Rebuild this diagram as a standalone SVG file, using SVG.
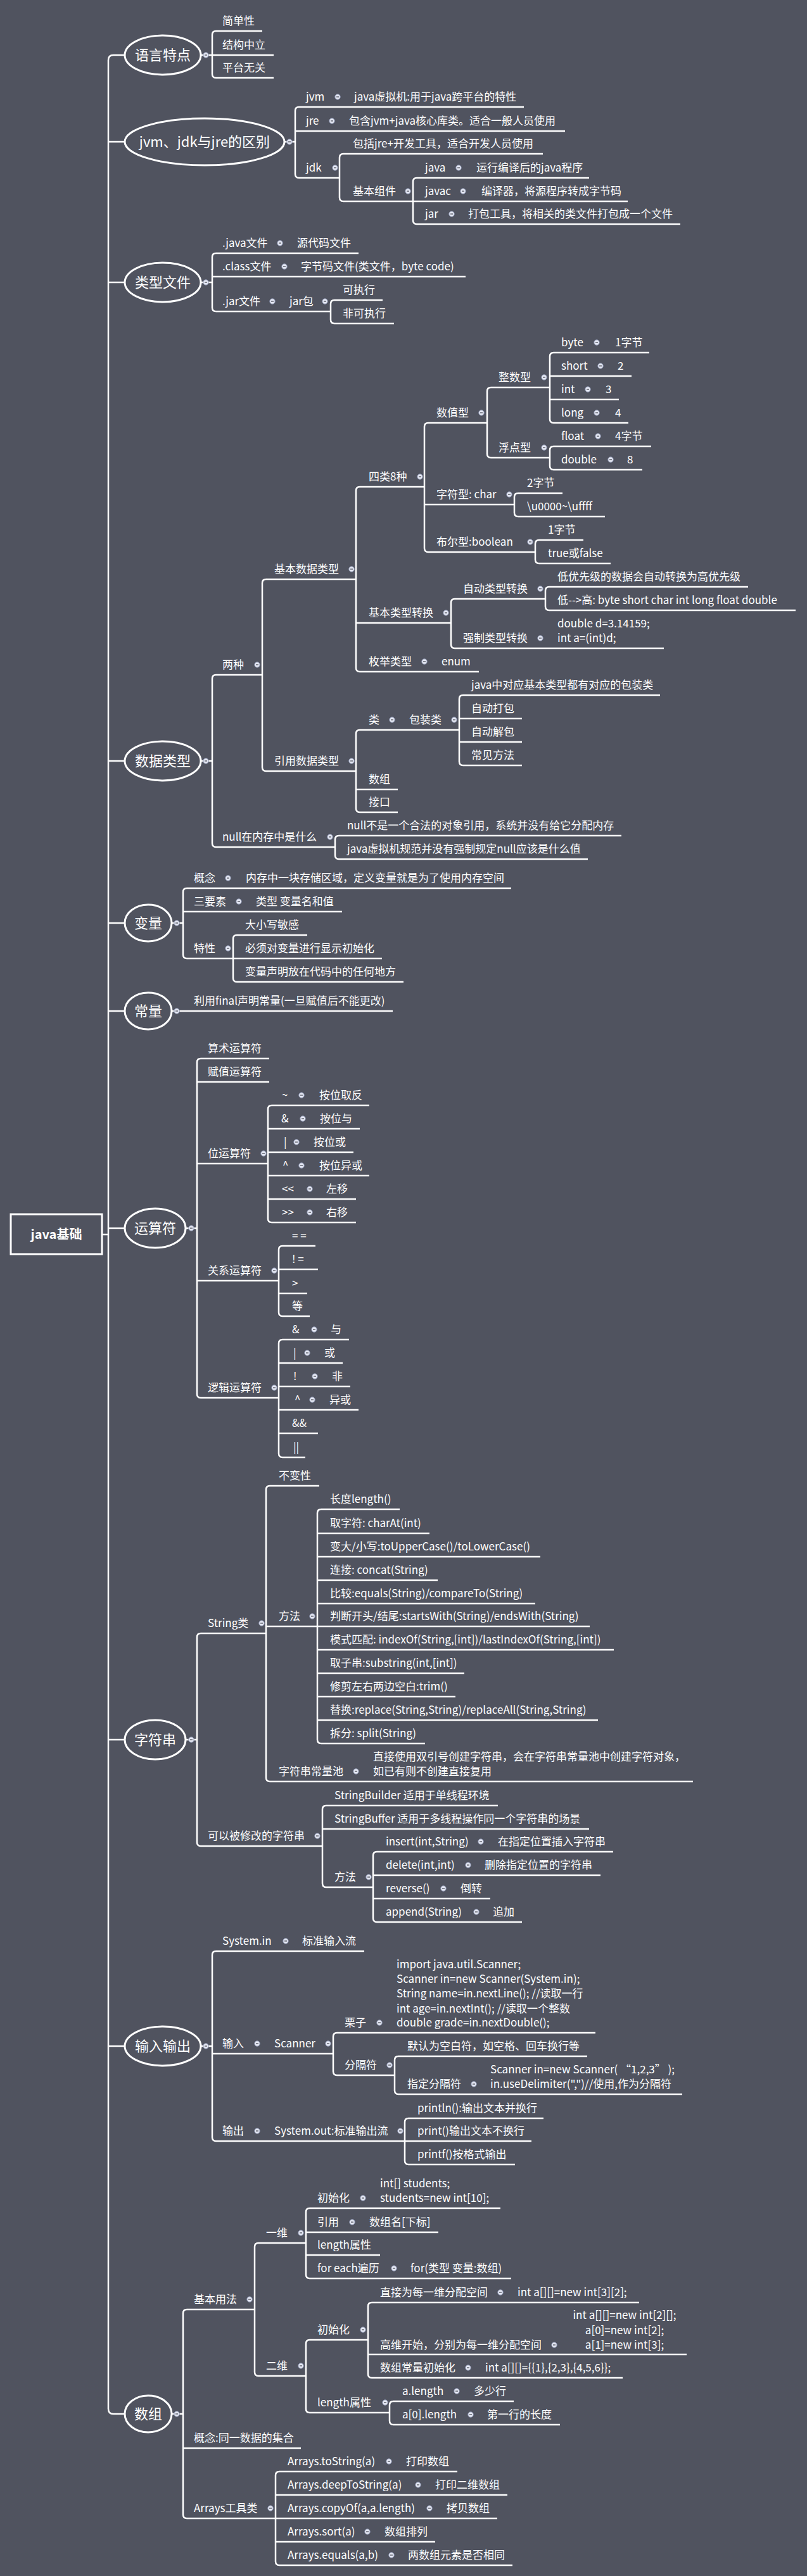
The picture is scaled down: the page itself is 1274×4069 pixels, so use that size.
<svg xmlns="http://www.w3.org/2000/svg" xmlns:xlink="http://www.w3.org/1999/xlink" width="1274" height="4069" viewBox="0 0 1274 4069">
<style>
.l{fill:none;stroke:#fff;stroke-width:2.5}
.e{fill:none;stroke:#fff;stroke-width:3}
text{fill:#fff;font-family:"Noto Sans CJK SC","Noto Sans",sans-serif;font-size:17px}
.tp{font-size:22px;text-anchor:middle}
.rt{font-size:20px;font-weight:bold;text-anchor:middle}
.c{text-anchor:middle}
</style>
<defs>
<g id="mk"><circle r="4.2" fill="#e6e9f4" stroke="#8d96b2" stroke-width="1"/><line x1="-2" x2="2" stroke="#50535f" stroke-width="1.3"/></g>
</defs>
<rect width="1274" height="4069" fill="#50535f"/>

<g id="connectors">
<path class="l" d="M197 87H179Q171 87 171 95V3805Q171 3813 179 3813H197"/>
<path class="l" d="M161 1950H171M171 224H197M171 446H197M171 1202H197M171 1458H197M171 1597H197M171 1940H197M171 2748H197M171 3232H197"/>
<!-- 语言特点 -->
<path class="l" d="M317 87H335M341 49Q335 49 335 55V117Q335 123 341 123M341 49H414M335 87H432M341 123H432"/>
<!-- jvm jdk jre -->
<path class="l" d="M449 224H466M472 169Q466 169 466 175V275Q466 281 472 281M472 169H827M466 207H892M472 281H536"/>
<path class="l" d="M542 243Q536 243 536 249V312Q536 318 542 318M542 243H857M542 318H652"/>
<path class="l" d="M658 281Q652 281 652 287V348Q652 354 658 354M658 281H930M652 318H991M658 354H1074"/>
<!-- 类型文件 -->
<path class="l" d="M317 446H335M341 400Q335 400 335 406V486Q335 492 341 492M341 400H566M335 437H735M341 492H522"/>
<path class="l" d="M528 474Q522 474 522 480V505Q522 511 528 511M528 474H604M528 511H622"/>
<!-- 数据类型 -->
<path class="l" d="M317 1202H335M341 1066Q335 1066 335 1072V1332Q335 1338 341 1338M341 1066H414M341 1338H529"/>
<path class="l" d="M420 915Q414 915 414 921V1212Q414 1218 420 1218M420 915H562M420 1218H562"/>
<path class="l" d="M568 769Q562 769 562 775V1055Q562 1061 568 1061M568 769H670M562 984H712M568 1061H756"/>
<path class="l" d="M676 668Q670 668 670 674V866Q670 872 676 872M676 668H769M670 797H812M676 872H845"/>
<path class="l" d="M775 612Q769 612 769 618V717Q769 723 775 723M775 612H868M775 723H868"/>
<path class="l" d="M874 557Q868 557 868 563V662Q868 668 874 668M874 557H1025M868 594H997M868 631H977M874 668H992"/>
<path class="l" d="M874 705Q868 705 868 711V736Q868 742 874 742M874 705H1028M874 742H1014"/>
<path class="l" d="M818 779Q812 779 812 785V810Q812 816 818 816M818 779H888M818 816H955"/>
<path class="l" d="M851 853Q845 853 845 859V884Q845 890 851 890M851 853H921M851 890H964"/>
<path class="l" d="M718 946Q712 946 712 952V1018Q712 1024 718 1024M718 946H861M718 1024H1048"/>
<path class="l" d="M867 927Q861 927 861 933V958Q861 964 867 964M867 927H1181M867 964H1256"/>
<path class="l" d="M568 1153Q562 1153 562 1159V1277Q562 1283 568 1283M568 1153H725M562 1247H628M568 1283H628"/>
<path class="l" d="M731 1098Q725 1098 725 1104V1203Q725 1209 731 1209M731 1098H1042M725 1135H824M725 1172H824M731 1209H824"/>
<path class="l" d="M535 1320Q529 1320 529 1326V1351Q529 1357 535 1357M535 1320H981M535 1357H928"/>
<!-- 变量 常量 -->
<path class="l" d="M271 1458H289M295 1403Q289 1403 289 1409V1508Q289 1514 295 1514M295 1403H807M289 1440H540M295 1514H368"/>
<path class="l" d="M374 1477Q368 1477 368 1483V1545Q368 1551 374 1551M374 1477H485M368 1514H603M374 1551H637"/>
<path class="l" d="M271 1597H620"/>
<!-- 运算符 -->
<path class="l" d="M293 1940H311M317 1672Q311 1672 311 1678V2202Q311 2208 317 2208M317 1672H425M311 1709H425M311 1838H423M311 2023H440M317 2208H440"/>
<path class="l" d="M429 1746Q423 1746 423 1752V1925Q423 1931 429 1931M429 1746H583M423 1783H568M423 1820H558M423 1857H583M423 1894H562M429 1931H562"/>
<path class="l" d="M446 1968Q440 1968 440 1974V2073Q440 2079 446 2079M446 1968H498M440 2005H502M440 2043H485M446 2079H489"/>
<path class="l" d="M446 2116Q440 2116 440 2122V2296Q440 2302 446 2302M446 2116H551M440 2153H541M440 2190H553M440 2227H566M440 2264H502M446 2302H482"/>
<!-- 字符串 -->
<path class="l" d="M293 2748H311M317 2580Q311 2580 311 2586V2910Q311 2916 317 2916M317 2580H420M317 2916H509"/>
<path class="l" d="M426 2347Q420 2347 420 2353V2808Q420 2814 426 2814M426 2347H504M420 2569H501M426 2814H1094"/>
<path class="l" d="M507 2384Q501 2384 501 2390V2748Q501 2754 507 2754M507 2384H631M501 2422H678M501 2459H853M501 2496H691M501 2533H845M501 2569H931M501 2606H969M501 2643H733M501 2680H719M501 2717H944M507 2754H671"/>
<path class="l" d="M515 2852Q509 2852 509 2858V2975Q509 2981 515 2981M515 2852H786M509 2889H930M515 2981H589"/>
<path class="l" d="M595 2925Q589 2925 589 2931V3030Q589 3036 595 3036M595 2925H968M589 2962H948M589 2999H774M595 3036H824"/>
<!-- 输入输出 -->
<path class="l" d="M317 3232H335M341 3082Q335 3082 335 3088V3376Q335 3382 341 3382M341 3082H575M335 3244H526M341 3382H639"/>
<path class="l" d="M532 3211Q526 3211 526 3217V3272Q526 3278 532 3278M532 3211H940M532 3278H623"/>
<path class="l" d="M629 3248Q623 3248 623 3254V3302Q623 3308 629 3308M629 3248H927M629 3308H1077"/>
<path class="l" d="M645 3346Q639 3346 639 3352V3413Q639 3419 645 3419M645 3346H858M639 3382H839M645 3419H813"/>
<!-- 数组 -->
<path class="l" d="M271 3813H289M295 3648Q289 3648 289 3654V3972Q289 3978 295 3978M295 3648H402M289 3867H475M295 3978H435"/>
<path class="l" d="M408 3543Q402 3543 402 3549V3747Q402 3753 408 3753M408 3543H483M408 3753H483"/>
<path class="l" d="M489 3488Q483 3488 483 3494V3593Q483 3599 489 3599M489 3488H790M483 3526H692M483 3562H600M489 3599H807"/>
<path class="l" d="M489 3696Q483 3696 483 3702V3805Q483 3811 489 3811M489 3696H581M489 3811H615"/>
<path class="l" d="M587 3637Q581 3637 581 3643V3750Q581 3756 587 3756M587 3637H1009M581 3719H1084M587 3756H983"/>
<path class="l" d="M621 3793Q615 3793 615 3799V3824Q615 3830 621 3830M621 3793H811M621 3830H884"/>
<path class="l" d="M441 3904Q435 3904 435 3910V4046Q435 4052 441 4052M441 3904H722M435 3941H801M435 3978H785M435 4015H687M441 4052H809"/>
</g>

<g id="root"><rect x="17" y="1918" width="144" height="63" fill="none" stroke="#fff" stroke-width="3"/><text class="rt" x="89" y="1957">java基础</text></g>

<g id="t-yyts"><ellipse class="e" cx="257" cy="87" rx="60" ry="31"/><text class="tp" x="257" y="95">语言特点</text><use href="#mk" x="325" y="87"/></g>
<g id="n-jdx"><text x="351" y="39">简单性</text></g>
<g id="n-jgzl"><text x="351" y="77">结构中立</text></g>
<g id="n-ptwg"><text x="351" y="113">平台无关</text></g>

<g id="t-jvm"><ellipse class="e" cx="323" cy="224" rx="126" ry="37"/><text class="tp" x="323" y="232">jvm、jdk与jre的区别</text><use href="#mk" x="457" y="224"/></g>
<g id="n-jvm"><text x="483" y="159">jvm</text><use href="#mk" x="533" y="153"/><text x="559" y="159">java虚拟机:用于java跨平台的特性</text></g>
<g id="n-jre"><text x="483" y="197">jre</text><use href="#mk" x="524" y="191"/><text x="551" y="197">包含jvm+java核心库类。适合一般人员使用</text></g>
<g id="n-jdk"><text x="483" y="271">jdk</text><use href="#mk" x="529" y="265"/></g>
<g id="n-jdk1"><text x="557" y="233">包括jre+开发工具，适合开发人员使用</text></g>
<g id="n-jbzj"><text x="557" y="308">基本组件</text><use href="#mk" x="644" y="302"/></g>
<g id="n-java"><text x="671" y="271">java</text><use href="#mk" x="724" y="265"/><text x="752" y="271">运行编译后的java程序</text></g>
<g id="n-javac"><text x="671" y="308">javac</text><use href="#mk" x="731" y="302"/><text x="760" y="308">编译器，将源程序转成字节码</text></g>
<g id="n-jar"><text x="671" y="344">jar</text><use href="#mk" x="713" y="338"/><text x="739" y="344">打包工具，将相关的类文件打包成一个文件</text></g>

<g id="t-lxwj"><ellipse class="e" cx="257" cy="446" rx="60" ry="31"/><text class="tp" x="257" y="454">类型文件</text><use href="#mk" x="325" y="446"/></g>
<g id="n-javaf"><text x="351" y="390">.java文件</text><use href="#mk" x="442" y="384"/><text x="469" y="390">源代码文件</text></g>
<g id="n-classf"><text x="351" y="427">.class文件</text><use href="#mk" x="449" y="421"/><text x="475" y="427">字节码文件(类文件，byte code)</text></g>
<g id="n-jarf"><text x="351" y="482">.jar文件</text><use href="#mk" x="430" y="476"/><text x="457" y="482">jar包</text><use href="#mk" x="513" y="476"/></g>
<g id="n-kzx"><text x="541" y="464">可执行</text></g>
<g id="n-fkzx"><text x="541" y="501">非可执行</text></g>

<g id="t-sjlx"><ellipse class="e" cx="257" cy="1202" rx="60" ry="31"/><text class="tp" x="257" y="1210">数据类型</text><use href="#mk" x="325" y="1202"/></g>
<g id="n-lz"><text x="351" y="1056">两种</text><use href="#mk" x="406" y="1050"/></g>
<g id="n-jbsjlx"><text x="433" y="905">基本数据类型</text><use href="#mk" x="555" y="899"/></g>
<g id="n-sl8z"><text x="582" y="759">四类8种</text><use href="#mk" x="663" y="753"/></g>
<g id="n-szx"><text x="689" y="658">数值型</text><use href="#mk" x="760" y="652"/></g>
<g id="n-zsx"><text x="787" y="602">整数型</text><use href="#mk" x="859" y="596"/></g>
<g id="n-byte"><text x="886" y="547">byte</text><use href="#mk" x="942" y="541"/><text x="971" y="547">1字节</text></g>
<g id="n-short"><text x="886" y="584">short</text><use href="#mk" x="948" y="578"/><text x="975" y="584">2</text></g>
<g id="n-int"><text x="886" y="621">int</text><use href="#mk" x="928" y="615"/><text x="956" y="621">3</text></g>
<g id="n-long"><text x="886" y="658">long</text><use href="#mk" x="942" y="652"/><text x="971" y="658">4</text></g>
<g id="n-fdx"><text x="787" y="713">浮点型</text><use href="#mk" x="859" y="707"/></g>
<g id="n-float"><text x="886" y="695">float</text><use href="#mk" x="944" y="689"/><text x="971" y="695">4字节</text></g>
<g id="n-double"><text x="886" y="732">double</text><use href="#mk" x="964" y="726"/><text x="990" y="732">8</text></g>
<g id="n-char"><text x="689" y="787">字符型: char</text><use href="#mk" x="804" y="781"/></g>
<g id="n-char1"><text x="832" y="769">2字节</text></g>
<g id="n-char2"><text x="832" y="806">\u0000~\uffff</text></g>
<g id="n-bool"><text x="689" y="862">布尔型:boolean</text><use href="#mk" x="837" y="856"/></g>
<g id="n-bool1"><text x="865" y="843">1字节</text></g>
<g id="n-bool2"><text x="865" y="880">true或false</text></g>
<g id="n-jblxzh"><text x="582" y="974">基本类型转换</text><use href="#mk" x="704" y="968"/></g>
<g id="n-zdlxzh"><text x="731" y="936">自动类型转换</text><use href="#mk" x="853" y="930"/></g>
<g id="n-zd1"><text x="880" y="917">低优先级的数据会自动转换为高优先级</text></g>
<g id="n-zd2"><text x="880" y="954">低--&gt;高: byte short char int long float double</text></g>
<g id="n-qzlxzh"><text x="731" y="1014">强制类型转换</text><use href="#mk" x="853" y="1008"/><text x="880" y="991">double d=3.14159;</text><text x="880" y="1014">int a=(int)d;</text></g>
<g id="n-mjlx"><text x="582" y="1051">枚举类型</text><use href="#mk" x="670" y="1045"/><text x="697" y="1051">enum</text></g>
<g id="n-yysjlx"><text x="433" y="1208">引用数据类型</text><use href="#mk" x="555" y="1202"/></g>
<g id="n-lei"><text x="582" y="1143">类</text><use href="#mk" x="619" y="1137"/><text x="646" y="1143">包装类</text><use href="#mk" x="717" y="1137"/></g>
<g id="n-bz1"><text x="744" y="1088">java中对应基本类型都有对应的包装类</text></g>
<g id="n-bz2"><text x="744" y="1125">自动打包</text></g>
<g id="n-bz3"><text x="744" y="1162">自动解包</text></g>
<g id="n-bz4"><text x="744" y="1199">常见方法</text></g>
<g id="n-sz"><text x="582" y="1237">数组</text></g>
<g id="n-jk"><text x="582" y="1273">接口</text></g>
<g id="n-null"><text x="351" y="1328">null在内存中是什么</text><use href="#mk" x="521" y="1322"/></g>
<g id="n-null1"><text x="548" y="1310">null不是一个合法的对象引用，系统并没有给它分配内存</text></g>
<g id="n-null2"><text x="548" y="1347">java虚拟机规范并没有强制规定null应该是什么值</text></g>

<g id="t-bl"><ellipse class="e" cx="234" cy="1458" rx="37" ry="29"/><text class="tp" x="234" y="1466">变量</text><use href="#mk" x="279" y="1458"/></g>
<g id="n-gn"><text x="306" y="1393">概念</text><use href="#mk" x="360" y="1387"/><text x="388" y="1393">内存中一块存储区域，定义变量就是为了使用内存空间</text></g>
<g id="n-sys"><text x="306" y="1430">三要素</text><use href="#mk" x="377" y="1424"/><text x="404" y="1430">类型 变量名和值</text></g>
<g id="n-tx"><text x="306" y="1504">特性</text><use href="#mk" x="360" y="1498"/></g>
<g id="n-tx1"><text x="387" y="1467">大小写敏感</text></g>
<g id="n-tx2"><text x="387" y="1504">必须对变量进行显示初始化</text></g>
<g id="n-tx3"><text x="387" y="1541">变量声明放在代码中的任何地方</text></g>

<g id="t-cl"><ellipse class="e" cx="234" cy="1597" rx="37" ry="29"/><text class="tp" x="234" y="1605">常量</text><use href="#mk" x="279" y="1597"/></g>
<g id="n-final"><text x="306" y="1587">利用final声明常量(一旦赋值后不能更改)</text></g>

<g id="t-ysf"><ellipse class="e" cx="245" cy="1940" rx="48" ry="31"/><text class="tp" x="245" y="1948">运算符</text><use href="#mk" x="302" y="1940"/></g>
<g id="n-ss"><text x="328" y="1662">算术运算符</text></g>
<g id="n-fz"><text x="328" y="1699">赋值运算符</text></g>
<g id="n-wys"><text x="328" y="1828">位运算符</text><use href="#mk" x="416" y="1822"/></g>
<g id="n-w1"><text x="445" y="1736">~</text><use href="#mk" x="476" y="1730"/><text x="504" y="1736">按位取反</text></g>
<g id="n-w2"><text x="444" y="1773">&amp;</text><use href="#mk" x="478" y="1767"/><text x="505" y="1773">按位与</text></g>
<g id="n-w3"><text x="448" y="1810">|</text><use href="#mk" x="468" y="1804"/><text x="495" y="1810">按位或</text></g>
<g id="n-w4"><text x="446" y="1847">^</text><use href="#mk" x="476" y="1841"/><text x="504" y="1847">按位异或</text></g>
<g id="n-w5"><text x="445" y="1884">&lt;&lt;</text><use href="#mk" x="489" y="1878"/><text x="515" y="1884">左移</text></g>
<g id="n-w6"><text x="445" y="1921">&gt;&gt;</text><use href="#mk" x="489" y="1915"/><text x="515" y="1921">右移</text></g>
<g id="n-gx"><text x="328" y="2013">关系运算符</text><use href="#mk" x="433" y="2007"/></g>
<g id="n-g1"><text x="461" y="1958">= =</text></g>
<g id="n-g2"><text x="461" y="1995">! =</text></g>
<g id="n-g3"><text x="461" y="2033">&gt;</text></g>
<g id="n-g4"><text x="461" y="2069">等</text></g>
<g id="n-lj"><text x="328" y="2198">逻辑运算符</text><use href="#mk" x="433" y="2192"/></g>
<g id="n-l1"><text x="461" y="2106">&amp;</text><use href="#mk" x="496" y="2100"/><text x="522" y="2106">与</text></g>
<g id="n-l2"><text x="463" y="2143">|</text><use href="#mk" x="485" y="2137"/><text x="512" y="2143">或</text></g>
<g id="n-l3"><text x="463" y="2180">!</text><use href="#mk" x="497" y="2174"/><text x="524" y="2180">非</text></g>
<g id="n-l4"><text x="465" y="2217">^</text><use href="#mk" x="493" y="2211"/><text x="520" y="2217">异或</text></g>
<g id="n-l5"><text x="461" y="2254">&amp;&amp;</text></g>
<g id="n-l6"><text x="463" y="2292">||</text></g>

<g id="t-zfc"><ellipse class="e" cx="245" cy="2748" rx="48" ry="31"/><text class="tp" x="245" y="2756">字符串</text><use href="#mk" x="302" y="2748"/></g>
<g id="n-strc"><text x="328" y="2570">String类</text><use href="#mk" x="413" y="2564"/></g>
<g id="n-bbx"><text x="440" y="2337">不变性</text></g>
<g id="n-ff"><text x="440" y="2559">方法</text><use href="#mk" x="493" y="2553"/></g>
<g id="n-f1"><text x="521" y="2374">长度length()</text></g>
<g id="n-f2"><text x="521" y="2412">取字符: charAt(int)</text></g>
<g id="n-f3"><text x="521" y="2449">变大/小写:toUpperCase()/toLowerCase()</text></g>
<g id="n-f4"><text x="521" y="2486">连接: concat(String)</text></g>
<g id="n-f5"><text x="521" y="2523">比较:equals(String)/compareTo(String)</text></g>
<g id="n-f6"><text x="521" y="2559">判断开头/结尾:startsWith(String)/endsWith(String)</text></g>
<g id="n-f7"><text x="521" y="2596">模式匹配: indexOf(String,[int])/lastIndexOf(String,[int])</text></g>
<g id="n-f8"><text x="521" y="2633">取子串:substring(int,[int])</text></g>
<g id="n-f9"><text x="521" y="2670">修剪左右两边空白:trim()</text></g>
<g id="n-f10"><text x="521" y="2707">替换:replace(String,String)/replaceAll(String,String)</text></g>
<g id="n-f11"><text x="521" y="2744">拆分: split(String)</text></g>
<g id="n-clc"><text x="440" y="2804">字符串常量池</text><use href="#mk" x="562" y="2798"/><text x="589" y="2781">直接使用双引号创建字符串，会在字符串常量池中创建字符对象，</text><text x="589" y="2804">如已有则不创建直接复用</text></g>
<g id="n-kxg"><text x="328" y="2906">可以被修改的字符串</text><use href="#mk" x="501" y="2900"/></g>
<g id="n-sb"><text x="528" y="2842">StringBuilder 适用于单线程环境</text></g>
<g id="n-sbf"><text x="528" y="2879">StringBuffer 适用于多线程操作同一个字符串的场景</text></g>
<g id="n-ff2"><text x="528" y="2971">方法</text><use href="#mk" x="582" y="2965"/></g>
<g id="n-m1"><text x="609" y="2915">insert(int,String)</text><use href="#mk" x="759" y="2909"/><text x="786" y="2915">在指定位置插入字符串</text></g>
<g id="n-m2"><text x="609" y="2952">delete(int,int)</text><use href="#mk" x="739" y="2946"/><text x="765" y="2952">删除指定位置的字符串</text></g>
<g id="n-m3"><text x="609" y="2989">reverse()</text><use href="#mk" x="700" y="2983"/><text x="727" y="2989">倒转</text></g>
<g id="n-m4"><text x="609" y="3026">append(String)</text><use href="#mk" x="752" y="3020"/><text x="778" y="3026">追加</text></g>

<g id="t-srsc"><ellipse class="e" cx="257" cy="3232" rx="60" ry="31"/><text class="tp" x="257" y="3240">输入输出</text><use href="#mk" x="325" y="3232"/></g>
<g id="n-sysin"><text x="351" y="3072">System.in</text><use href="#mk" x="451" y="3066"/><text x="477" y="3072">标准输入流</text></g>
<g id="n-sr"><text x="351" y="3234">输入</text><use href="#mk" x="406" y="3228"/><text x="433" y="3234">Scanner</text><use href="#mk" x="518" y="3228"/></g>
<g id="n-lz2"><text x="544" y="3201">栗子</text><use href="#mk" x="599" y="3195"/>
<text x="626" y="3109">import java.util.Scanner;</text>
<text x="626" y="3132">Scanner in=new Scanner(System.in);</text>
<text x="626" y="3155">String name=in.nextLine(); //读取一行</text>
<text x="626" y="3179">int age=in.nextInt(); //读取一个整数</text>
<text x="626" y="3201">double grade=in.nextDouble();</text></g>
<g id="n-fgf"><text x="544" y="3268">分隔符</text><use href="#mk" x="615" y="3262"/></g>
<g id="n-fgf1"><text x="643" y="3238">默认为空白符，如空格、回车换行等</text></g>
<g id="n-fgf2"><text x="643" y="3298">指定分隔符</text><use href="#mk" x="748" y="3292"/><text x="774" y="3275">Scanner in=new Scanner( “1,2,3” );</text><text x="774" y="3298">in.useDelimiter(",")//使用,作为分隔符</text></g>
<g id="n-sc"><text x="351" y="3372">输出</text><use href="#mk" x="406" y="3366"/><text x="433" y="3372">System.out:标准输出流</text><use href="#mk" x="632" y="3366"/></g>
<g id="n-p1"><text x="659" y="3336">println():输出文本并换行</text></g>
<g id="n-p2"><text x="659" y="3372">print()输出文本不换行</text></g>
<g id="n-p3"><text x="659" y="3409">printf()按格式输出</text></g>

<g id="t-sz"><ellipse class="e" cx="234" cy="3813" rx="37" ry="29"/><text class="tp" x="234" y="3821">数组</text><use href="#mk" x="279" y="3813"/></g>
<g id="n-jbyf"><text x="306" y="3638">基本用法</text><use href="#mk" x="394" y="3632"/></g>
<g id="n-yw"><text x="420" y="3533">一维</text><use href="#mk" x="475" y="3527"/></g>
<g id="n-yw1"><text x="501" y="3478">初始化</text><use href="#mk" x="573" y="3472"/><text x="600" y="3455">int[] students;</text><text x="600" y="3478">students=new int[10];</text></g>
<g id="n-yw2"><text x="501" y="3516">引用</text><use href="#mk" x="556" y="3510"/><text x="583" y="3516">数组名[下标]</text></g>
<g id="n-yw3"><text x="501" y="3552">length属性</text></g>
<g id="n-yw4"><text x="501" y="3589">for each遍历</text><use href="#mk" x="622" y="3583"/><text x="648" y="3589">for(类型 变量:数组)</text></g>
<g id="n-ew"><text x="420" y="3743">二维</text><use href="#mk" x="475" y="3737"/></g>
<g id="n-ew1"><text x="501" y="3686">初始化</text><use href="#mk" x="573" y="3680"/></g>
<g id="n-ew11"><text x="600" y="3627">直接为每一维分配空间</text><use href="#mk" x="790" y="3621"/><text x="817" y="3627">int a[][]=new int[3][2];</text></g>
<g id="n-ew12"><text x="600" y="3710">高维开始，分别为每一维分配空间</text><use href="#mk" x="875" y="3704"/><text class="c" x="986" y="3663">int a[][]=new int[2][];</text><text class="c" x="986" y="3687">a[0]=new int[2];</text><text class="c" x="986" y="3710">a[1]=new int[3];</text></g>
<g id="n-ew13"><text x="600" y="3746">数组常量初始化</text><use href="#mk" x="739" y="3740"/><text x="766" y="3746">int a[][]={{1},{2,3},{4,5,6}};</text></g>
<g id="n-ew2"><text x="501" y="3801">length属性</text><use href="#mk" x="608" y="3795"/></g>
<g id="n-ew21"><text x="635" y="3783">a.length</text><use href="#mk" x="721" y="3777"/><text x="748" y="3783">多少行</text></g>
<g id="n-ew22"><text x="635" y="3820">a[0].length</text><use href="#mk" x="743" y="3814"/><text x="769" y="3820">第一行的长度</text></g>
<g id="n-gn2"><text x="306" y="3857">概念:同一数据的集合</text></g>
<g id="n-arr"><text x="306" y="3968">Arrays工具类</text><use href="#mk" x="427" y="3962"/></g>
<g id="n-a1"><text x="454" y="3894">Arrays.toString(a)</text><use href="#mk" x="614" y="3888"/><text x="641" y="3894">打印数组</text></g>
<g id="n-a2"><text x="454" y="3931">Arrays.deepToString(a)</text><use href="#mk" x="660" y="3925"/><text x="687" y="3931">打印二维数组</text></g>
<g id="n-a3"><text x="454" y="3968">Arrays.copyOf(a,a.length)</text><use href="#mk" x="678" y="3962"/><text x="705" y="3968">拷贝数组</text></g>
<g id="n-a4"><text x="454" y="4005">Arrays.sort(a)</text><use href="#mk" x="580" y="3999"/><text x="607" y="4005">数组排列</text></g>
<g id="n-a5"><text x="454" y="4042">Arrays.equals(a,b)</text><use href="#mk" x="618" y="4036"/><text x="644" y="4042">两数组元素是否相同</text></g>
</svg>
